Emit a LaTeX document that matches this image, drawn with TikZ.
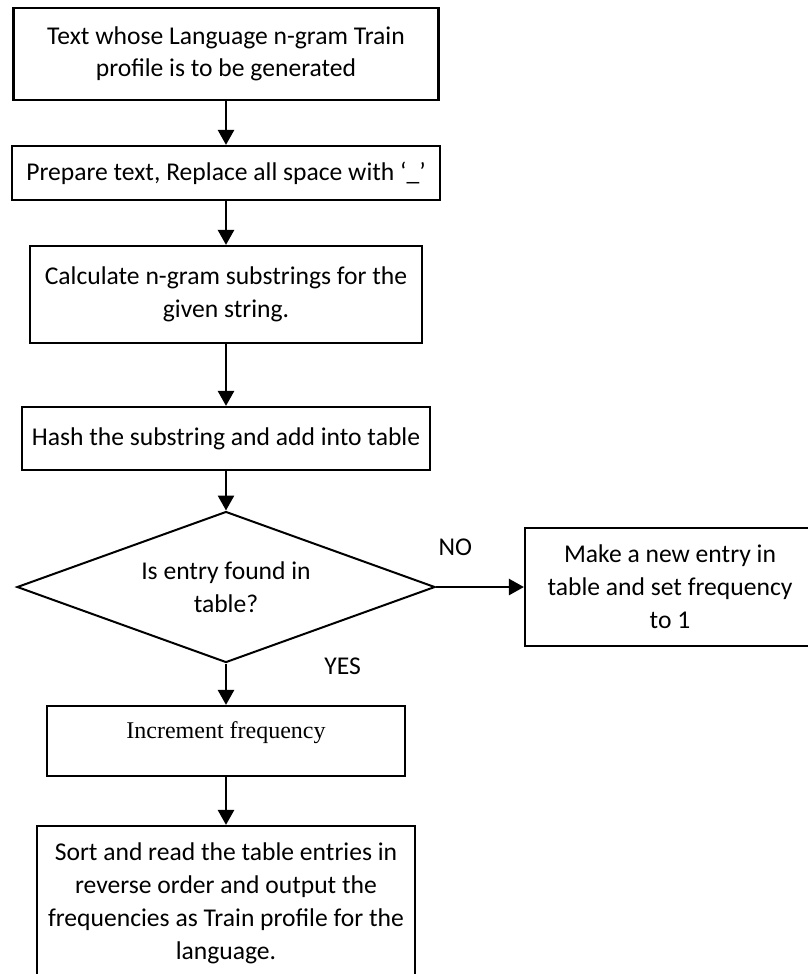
\documentclass[tikz,border=0pt]{standalone}
\usepackage{fontspec}
\setmainfont{Carlito}
\newfontfamily\timesfont{Liberation Serif}
\usetikzlibrary{shapes.geometric,arrows.meta,positioning}
\tikzset{
  procbox/.style={draw, rectangle, line width=1.1bp, align=center, inner sep=0pt,
    font=\fontsize{12.8bp}{16.5bp}\selectfont},
  decision/.style={draw, diamond, aspect=2.77, line width=1bp, align=center, inner sep=0pt,
    font=\fontsize{12.8bp}{16.5bp}\selectfont},
  answer/.style={font=\fontsize{12.8bp}{16.5bp}\selectfont, inner sep=0pt},
  flow/.style={-{Triangle[length=7.5bp,width=8bp]}, line width=1.3bp}
}

\begin{document}
\begin{tikzpicture}[x=0.5bp, y=-0.5bp, on grid]
   \useasboundingbox (0,0) rectangle (808,974);
   \clip (0,0) rectangle (808,974);
   \node[procbox, minimum width=212.5bp, minimum height=46bp] (input) at (226,54)
      {Text whose Language n-gram Train\\[-0.5bp]profile is to be generated};
   \node[procbox, minimum width=214bp, minimum height=27bp] (prepare) [below=59.5bp of input]
      {Prepare text, Replace all space with `\_'};
   \node[procbox, minimum width=196bp, minimum height=48.5bp] (ngram) [below=60.75bp of prepare]
      {Calculate n-gram substrings for the\\given string.};
   \node[procbox, minimum width=204bp, minimum height=31.5bp] (hash) [below=72bp of ngram]
      {Hash the substring and add into table};
   \node[decision, minimum width=209bp, minimum height=75.5bp] (found) [below=74.25bp of hash]
      {Is entry found in\\table?};
   \node[procbox, minimum width=145bp, minimum height=59bp] (newentry) [right=222bp of found]
      {Make a new entry in\\table and set frequency\\to 1};
   \node[procbox, minimum width=179bp, minimum height=35bp, text height=9bp, text depth=12bp,
      font=\timesfont\fontsize{12bp}{14bp}\selectfont] (incr) [below=77bp of found]
      {Increment frequency};
   \node[procbox, minimum width=189bp, minimum height=77bp] (output) [below=81bp of incr]
      {Sort and read the table entries in\\reverse order and output the\\frequencies as Train profile for the\\language.};
    \path[flow]
    (input) edge (prepare)
    (prepare) edge (ngram)
    (ngram) edge (hash)
    (hash) edge (found)
    (incr) edge (output);
    \draw[flow] (found.east) -- node[answer, pos=0.22, above=15bp] (no) {NO} (newentry.west);
    \draw[flow] (found.south) -- node[answer, pos=0.07, right=48.5bp] (yes) {YES} (incr.north);
\end{tikzpicture}
\end{document}
